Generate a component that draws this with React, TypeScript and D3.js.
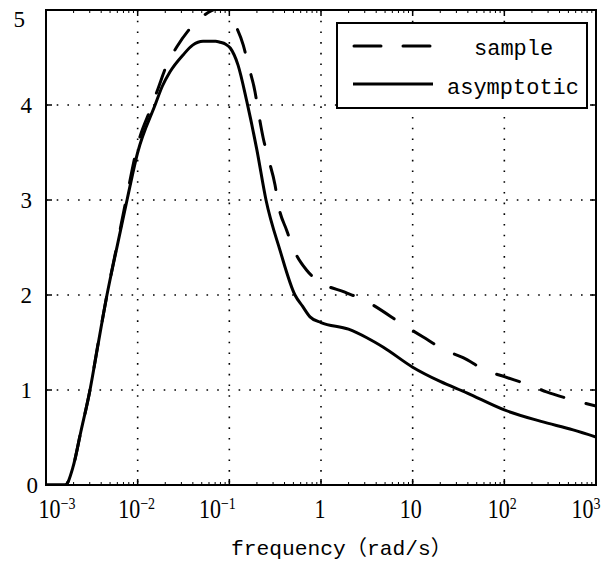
import React from 'react';
import * as d3 from 'd3';

const W = 605;
const H = 566;

// data: frequency exponents (log10 rad/s) and magnitudes
const sampleLogFreq = [-3, -2.79, -2.705, -2.62, -2.52, -2.43, -2.335, -2.22, -2.116, -2.0, -1.85, -1.775, -1.683, -1.574, -1.45, -1.32, -1.2, -1.08, -1.0, -0.957, -0.848, -0.793, -0.72, -0.684, -0.63, -0.575, -0.502, -0.466, -0.374, -0.302, -0.156, 0, 0.26, 0.46, 0.94, 1.11, 1.35, 1.55, 1.79, 2.0, 2.28, 2.46, 2.73, 3.0];
const sampleMag = [0, 0, 0.19, 0.56, 1.0, 1.5, 2.0, 2.55, 3.05, 3.58, 3.98, 4.18, 4.42, 4.61, 4.78, 4.91, 4.99, 5.03, 4.98, 4.89, 4.63, 4.42, 4.14, 3.93, 3.65, 3.44, 3.16, 2.95, 2.68, 2.49, 2.26, 2.13, 2.03, 1.95, 1.66, 1.56, 1.42, 1.34, 1.21, 1.14, 1.05, 0.98, 0.9, 0.83];

const asymLogFreq = [-3, -2.79, -2.705, -2.62, -2.52, -2.43, -2.335, -2.22, -2.116, -2.0, -1.81, -1.73, -1.647, -1.502, -1.4, -1.287, -1.15, -1.1, -1.04, -0.99, -0.905, -0.81, -0.7, -0.6, -0.447, -0.284, -0.2, -0.12, 0, 0.3, 0.5, 0.68, 1.0, 1.3, 1.59, 2.0, 2.4, 2.75, 3.0];
const asymMag = [0, 0, 0.19, 0.56, 1.0, 1.49, 2.0, 2.53, 3.0, 3.5, 4.0, 4.2, 4.35, 4.53, 4.63, 4.67, 4.67, 4.66, 4.64, 4.6, 4.42, 4.04, 3.53, 3.0, 2.47, 2.0, 1.88, 1.77, 1.71, 1.64, 1.55, 1.45, 1.24, 1.09, 0.97, 0.79, 0.67, 0.58, 0.505];

const xTickValues = [1e-3, 1e-2, 1e-1, 1, 10, 100, 1000];
const xTickBase = ['10', '10', '10', '1', '10', '10', '10'];
const xTickExp = ['−3', '−2', '−1', '', '', '2', '3'];
const yTickValues = [0, 1, 2, 3, 4, 5];
const legendLabels = ['sample', 'asymptotic'];
const xAxisTitle = 'frequency（rad/s）';

// label nudges (layout only)
const xLabelNudge = [11, -1, -12, -1, -2, -2, -10];
const yLabelNudgeX = [6, 0, 0, 0, 0, -7];
const yLabelNudgeY = [0, 0, 0, 0, 0, 9];

const plot = { left: 46, right: 596, top: 10, bottom: 485 };

const serif = '"Liberation Serif", "Times New Roman", "DejaVu Serif", serif';
const mono = '"Liberation Mono", "DejaVu Sans Mono", "Noto Sans CJK SC", monospace';

export default function App() {
  const x = d3.scaleLog().domain([1e-3, 1e3]).range([plot.left, plot.right]);
  const y = d3.scaleLinear().domain([0, 5]).range([plot.bottom, plot.top]);

  const sampleData = sampleLogFreq.map((e, i) => ({ f: Math.pow(10, e), v: sampleMag[i] }));
  const asymData = asymLogFreq.map((e, i) => ({ f: Math.pow(10, e), v: asymMag[i] }));

  const line = d3
    .line<{ f: number; v: number }>()
    .x((d) => x(d.f))
    .y((d) => y(d.v))
    .curve(d3.curveMonotoneX);

  const minorTicks: number[] = [];
  for (let d = -3; d < 3; d++) {
    for (let k = 2; k <= 9; k++) minorTicks.push(k * Math.pow(10, d));
  }

  return (
    <svg
      width={W}
      height={H}
      viewBox={`0 0 ${W} ${H}`}
      style={{ position: 'absolute', left: 0, top: 0, background: '#fff' }}
    >
      <defs>
        <clipPath id="plotClip">
          <rect x={plot.left} y={plot.top} width={plot.right - plot.left} height={plot.bottom - plot.top} />
        </clipPath>
      </defs>
      <rect x={0} y={0} width={W} height={H} fill="#fff" />

      {/* grid */}
      <g stroke="#000" strokeWidth={1.6} strokeDasharray="1.6,9.1" fill="none">
        {xTickValues.slice(1, -1).map((t, i) => (
          <line key={'gx' + i} x1={x(t)} x2={x(t)} y1={plot.top} y2={plot.bottom} />
        ))}
        {yTickValues.slice(1, -1).map((t, i) => (
          <line key={'gy' + i} x1={plot.left} x2={plot.right} y1={y(t)} y2={y(t)} />
        ))}
      </g>

      {/* ticks */}
      <g stroke="#000" strokeWidth={1.5}>
        {xTickValues.map((t, i) => (
          <g key={'xt' + i}>
            <line x1={x(t)} x2={x(t)} y1={plot.bottom} y2={plot.bottom - 6} />
            <line x1={x(t)} x2={x(t)} y1={plot.top} y2={plot.top + 6} />
          </g>
        ))}
        {minorTicks.map((t, i) => (
          <g key={'mt' + i}>
            <line x1={x(t)} x2={x(t)} y1={plot.bottom} y2={plot.bottom - 3} strokeWidth={1} />
            <line x1={x(t)} x2={x(t)} y1={plot.top} y2={plot.top + 3} strokeWidth={1} />
          </g>
        ))}
        {yTickValues.map((t, i) => (
          <g key={'yt' + i}>
            <line x1={plot.left} x2={plot.left + 6} y1={y(t)} y2={y(t)} />
            <line x1={plot.right} x2={plot.right - 6} y1={y(t)} y2={y(t)} />
          </g>
        ))}
      </g>

      {/* curves */}
      <g clipPath="url(#plotClip)" fill="none" stroke="#000" strokeWidth={3}>
        <path d={line(asymData) || ''} strokeLinejoin="round" />
        <path d={line(sampleData) || ''} strokeDasharray="24,23" strokeLinecap="round" strokeLinejoin="round" />
      </g>

      {/* axes box */}
      <rect
        x={plot.left}
        y={plot.top}
        width={plot.right - plot.left}
        height={plot.bottom - plot.top}
        fill="none"
        stroke="#000"
        strokeWidth={2}
      />

      {/* y tick labels */}
      <g style={{ fontFamily: serif, fontSize: '23px' }} fill="#000" textAnchor="end">
        {yTickValues.map((t, i) => (
          <text key={'yl' + i} x={32 + yLabelNudgeX[i]} y={y(t) + 8 + yLabelNudgeY[i]}>
            {String(t)}
          </text>
        ))}
      </g>

      {/* x tick labels */}
      <g style={{ fontFamily: serif, fontSize: '22px' }} fill="#000" textAnchor="middle">
        {xTickValues.map((t, i) => (
          <text
            key={'xl' + i}
            x={0}
            y={0}
            transform={`translate(${x(t) + xLabelNudge[i]},518) scale(1,1.2)`}
          >
            <tspan>{xTickBase[i]}</tspan>
            {xTickExp[i] ? (
              <tspan style={{ fontSize: '14px' }} dy={-7.5}>
                {xTickExp[i]}
              </tspan>
            ) : null}
          </text>
        ))}
      </g>

      {/* x axis title */}
      <text
        x={231}
        y={555}
        style={{ fontFamily: mono, fontSize: '21px' }}
        fill="#000"
        textLength={221}
        lengthAdjust="spacingAndGlyphs"
      >
        {xAxisTitle}
      </text>

      {/* legend */}
      <g>
        <rect x={337} y={23} width={250} height={85} fill="#fff" stroke="#000" strokeWidth={2} />
        <line x1={354} x2={432} y1={46} y2={46} stroke="#000" strokeWidth={3} strokeDasharray="27,22" strokeLinecap="round" />
        <line x1={353} x2={433} y1={84} y2={84} stroke="#000" strokeWidth={3} />
        <text x={474} y={55} style={{ fontFamily: mono, fontSize: '22px' }} fill="#000">
          {legendLabels[0]}
        </text>
        <text x={447} y={94} style={{ fontFamily: mono, fontSize: '22px' }} fill="#000">
          {legendLabels[1]}
        </text>
      </g>
    </svg>
  );
}
